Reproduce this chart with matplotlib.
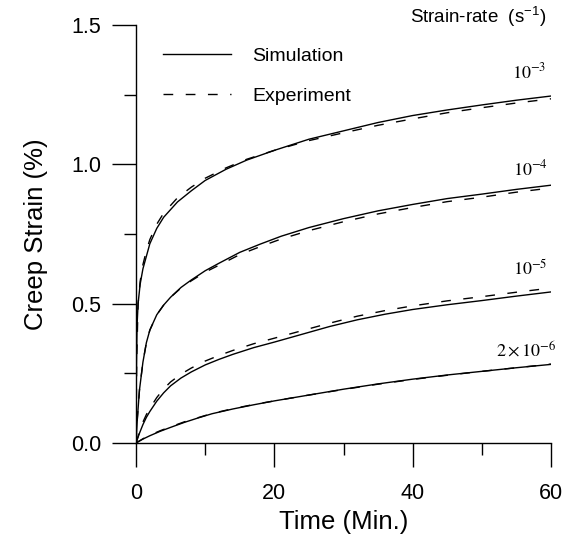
import matplotlib
matplotlib.use('Agg')
from matplotlib import pyplot as plt

plt.rcParams['font.family'] = ['Liberation Sans', 'DejaVu Sans']
plt.rcParams['mathtext.fontset'] = 'stix'

# strain rate 1e-3
t_sim_3 = [0, 0.05, 0.15, 0.3, 0.6, 1.0, 1.5, 2, 3, 4, 6, 8, 10, 13, 16, 20, 25, 30, 35, 40, 45, 50, 55, 60]
sim_3 = [0, 0.25, 0.42, 0.50, 0.57, 0.625, 0.67, 0.715, 0.77, 0.81, 0.865, 0.905, 0.942, 0.982, 1.015, 1.05,
         1.09, 1.12, 1.15, 1.175, 1.195, 1.213, 1.23, 1.245]
t_exp_3 = [0, 0.1, 0.3, 0.6, 1, 1.5, 2, 3, 4, 6, 8, 10, 13, 16, 20, 25, 30, 35, 40, 45, 50, 55, 60]
exp_3 = [0, 0.3, 0.5, 0.58, 0.64, 0.69, 0.73, 0.785, 0.825, 0.88, 0.918, 0.95, 0.987, 1.018, 1.05,
         1.085, 1.113, 1.14, 1.163, 1.185, 1.203, 1.22, 1.235]

# strain rate 1e-4
t_4 = [0, 0.2, 0.5, 1, 1.5, 2, 3, 4, 5, 6.5, 8, 10, 12, 15, 18, 21, 25, 30, 35, 40, 45, 50, 55, 60]
sim_4 = [0, 0.09, 0.19, 0.29, 0.36, 0.405, 0.46, 0.495, 0.523, 0.558, 0.585, 0.618, 0.645, 0.684, 0.714,
         0.742, 0.773, 0.805, 0.833, 0.856, 0.877, 0.893, 0.91, 0.925]
exp_4 = [0, 0.09, 0.19, 0.29, 0.36, 0.405, 0.46, 0.495, 0.523, 0.556, 0.582, 0.613, 0.638, 0.676, 0.705,
         0.732, 0.762, 0.794, 0.822, 0.845, 0.866, 0.882, 0.9, 0.915]

# strain rate 1e-5
t_5 = [0, 0.5, 1, 1.5, 2, 3, 4, 5, 6.5, 8, 10, 12, 14, 17, 20, 24, 28, 32, 36, 40, 45, 50, 55, 60]
sim_5 = [0, 0.035, 0.066, 0.092, 0.113, 0.15, 0.18, 0.205, 0.233, 0.255, 0.28, 0.3, 0.318, 0.342,
         0.362, 0.39, 0.418, 0.442, 0.462, 0.479, 0.496, 0.511, 0.527, 0.542]
exp_5 = [0, 0.04, 0.075, 0.102, 0.124, 0.163, 0.194, 0.219, 0.247, 0.269, 0.294, 0.314, 0.332, 0.356,
         0.376, 0.403, 0.43, 0.455, 0.475, 0.492, 0.51, 0.525, 0.541, 0.556]

# strain rate 2e-6
t_6 = [0, 1, 2, 3.5, 5, 7, 9, 11, 14, 17, 20, 25, 30, 35, 40, 45, 50, 55, 60]
sim_6 = [0, 0.014, 0.026, 0.042, 0.056, 0.074, 0.09, 0.105, 0.122, 0.137, 0.151, 0.172, 0.193, 0.212,
         0.229, 0.244, 0.257, 0.27, 0.282]
exp_6 = [0, 0.015, 0.028, 0.044, 0.058, 0.076, 0.091, 0.106, 0.123, 0.138, 0.151, 0.172, 0.192, 0.211,
         0.228, 0.243, 0.257, 0.27, 0.283]

rate_labels = [r'$10^{-3}$', r'$10^{-4}$', r'$10^{-5}$', r'$2\times10^{-6}$']
label_pos = [(59.3, 1.33), (59.5, 0.98), (59.5, 0.625), (60.8, 0.334)]

dash = (0, (7, 9))

fig = plt.figure(figsize=(5.66, 5.45), dpi=100)
ax = fig.add_axes([0.2403, 0.1872, 0.7332, 0.767])

ax.plot(t_sim_3, sim_3, c='k', lw=1.0, label='Simulation')
ax.plot(t_exp_3, exp_3, c='k', lw=1.0, ls=dash, label='Experiment')
for t, sim, exp in [(t_4, sim_4, exp_4), (t_5, sim_5, exp_5), (t_6, sim_6, exp_6)]:
    ax.plot(t, sim, c='k', lw=1.0)
    ax.plot(t, exp, c='k', lw=1.0, ls=dash)

for text, (x, y) in zip(rate_labels, label_pos):
    ax.text(x, y, text, ha='right', va='center', fontsize=13)

ax.text(0.99, 1.019, 'Strain-rate  (s$^{\\mathregular{-1}}$)', transform=ax.transAxes,
        ha='right', va='center', fontsize=13.5)

ax.set_xlim(0, 60)
ax.set_ylim(0, 1.5)
ax.set_xticks([0, 20, 40, 60])
ax.set_xticks([10, 30, 50], minor=True)
ax.set_yticks([0, 0.5, 1.0, 1.5])
ax.set_yticks([0.25, 0.75, 1.25], minor=True)
ax.set_yticklabels(['0.0', '0.5', '1.0', '1.5'])

for side in ('top', 'right'):
    ax.spines[side].set_visible(False)
for side in ('left', 'bottom'):
    ax.spines[side].set_linewidth(1.0)
ax.tick_params(which='major', length=17, width=1.0, labelsize=15.5)
ax.tick_params(axis='y', which='major', pad=8)
ax.tick_params(axis='x', which='major', pad=12)
ax.tick_params(which='minor', length=8.5, width=1.0)

ax.set_xlabel('Time (Min.)', fontsize=18.5)
ax.set_ylabel('Creep Strain (%)', fontsize=18.5)
ax.xaxis.set_label_coords(0.5, -0.16)
ax.yaxis.set_label_coords(-0.212, 0.5)

ax.legend(loc='upper left', bbox_to_anchor=(0.065, 0.947), frameon=False, fontsize=14,
          handlelength=3.5, handletextpad=1.1, labelspacing=1.16, borderpad=0, borderaxespad=0)

fig.savefig('out.png', dpi=100)
